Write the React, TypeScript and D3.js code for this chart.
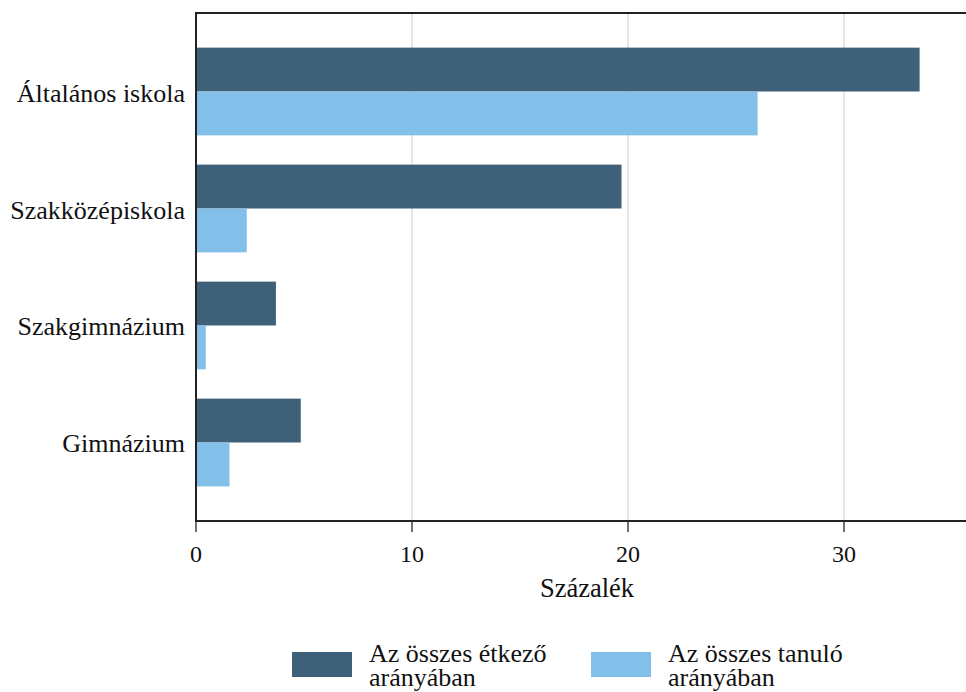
import React from "react";
import * as d3 from "d3";

const categories = ["Általános iskola", "Szakközépiskola", "Szakgimnázium", "Gimnázium"];
const seriesNames = ["Az összes étkező arányában", "Az összes tanuló arányában"];
const etkezoValues = [33.5, 19.7, 3.7, 4.85];
const tanuloValues = [26.0, 2.35, 0.45, 1.55];
const xTicks = [0, 10, 20, 30];
const xTitle = "Százalék";

const W = 966;
const H = 692;
const left = 196;
const top = 13;
const bottom = 521;
const DARK = "#3e6179";
const LIGHT = "#82bfe9";
const FONT = "Liberation Serif, Times New Roman, serif";

export default function App() {
  const x = d3.scaleLinear().domain([0, 36]).range([left, left + 36 * 21.6]);
  const y = d3.scaleBand<string>().domain(categories).range([top, bottom]).paddingInner(0.25).paddingOuter(0.296);
  const sub = d3.scaleBand<number>().domain([0, 1]).range([0, y.bandwidth()]);
  const series = [etkezoValues, tanuloValues];
  const colors = [DARK, LIGHT];

  return (
    <svg width={W} height={H} fontFamily={FONT} style={{ position: "absolute", left: 0, top: 0, fontFamily: FONT }}>
      <rect width={W} height={H} fill="#fff" />
      {xTicks.filter((t) => t > 0).map((t) => (
        <line key={t} x1={x(t)} x2={x(t)} y1={top} y2={bottom} stroke="#d9d9d9" strokeWidth={1.3} />
      ))}
      {series.map((vals, si) =>
        vals.map((v, i) => (
          <rect
            key={si + "-" + i}
            x={x(0)}
            y={(y(categories[i]) as number) + (sub(si) as number)}
            width={x(v) - x(0)}
            height={sub.bandwidth()}
            fill={colors[si]}
          />
        ))
      )}
      <line x1={left} x2={W} y1={top} y2={top} stroke="#222" strokeWidth={2} />
      <line x1={left} x2={W} y1={bottom} y2={bottom} stroke="#222" strokeWidth={2} />
      <line x1={left} x2={left} y1={top - 1} y2={bottom + 1} stroke="#222" strokeWidth={2} />
      {xTicks.map((t) => (
        <g key={t}>
          <line x1={x(t)} x2={x(t)} y1={bottom} y2={bottom + 11} stroke="#222" strokeWidth={1.3} />
          <text x={x(t)} y={562} fontSize={24} textAnchor="middle" fill="#111" style={{ fontFamily: FONT }}>
            {t}
          </text>
        </g>
      ))}
      <text x={587} y={597} fontSize={26.5} textAnchor="middle" fill="#111" style={{ fontFamily: FONT }}>
        {xTitle}
      </text>
      {categories.map((c) => (
        <text
          key={c}
          x={185}
          y={(y(c) as number) + y.bandwidth() / 2 + 10}
          fontSize={26}
          textAnchor="end"
          fill="#111"
          style={{ fontFamily: FONT }}
        >
          {c}
        </text>
      ))}
      {seriesNames.map((name, si) => {
        const sx = si === 0 ? 292 : 591;
        const words = name.split(" ");
        const line1 = words.slice(0, 3).join(" ");
        const line2 = words.slice(3).join(" ");
        return (
          <g key={name}>
            <rect x={sx} y={652} width={60} height={25} fill={colors[si]} />
            <text x={sx + 77} y={662} fontSize={26} fill="#111" style={{ fontFamily: FONT }}>
              <tspan x={sx + 77} y={662}>{line1}</tspan>
              <tspan x={sx + 77} y={686}>{line2}</tspan>
            </text>
          </g>
        );
      })}
    </svg>
  );
}
